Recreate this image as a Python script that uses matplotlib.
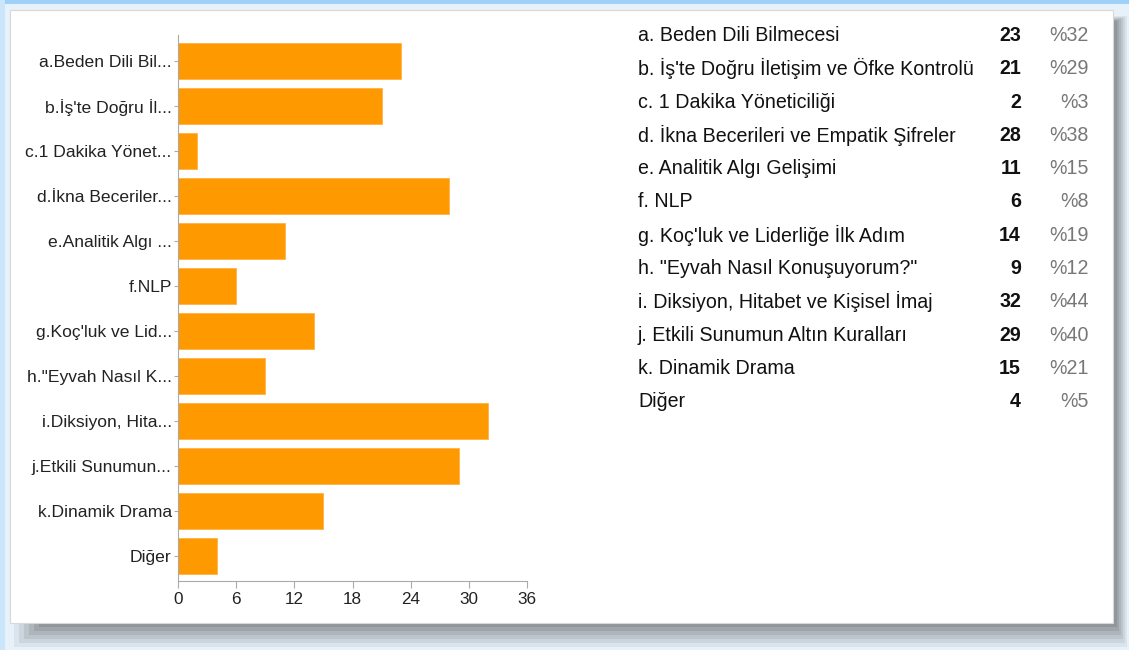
import matplotlib.pyplot as plt
from matplotlib.patches import Rectangle

plt.rcParams["font.family"] = ["Liberation Sans", "DejaVu Sans"]

# data
bar_labels = [
    "a.Beden Dili Bil...", "b.İş'te Doğru İl...", "c.1 Dakika Yönet...",
    "d.İkna Beceriler...", "e.Analitik Algı ...", "f.NLP",
    "g.Koç'luk ve Lid...", "h.\"Eyvah Nasıl K...", "i.Diksiyon, Hita...",
    "j.Etkili Sunumun...", "k.Dinamik Drama", "Diğer",
]
full_labels = [
    "a. Beden Dili Bilmecesi",
    "b. İş'te Doğru İletişim ve Öfke Kontrolü",
    "c. 1 Dakika Yöneticiliği",
    "d. İkna Becerileri ve Empatik Şifreler",
    "e. Analitik Algı Gelişimi",
    "f. NLP",
    "g. Koç'luk ve Liderliğe İlk Adım",
    "h. \"Eyvah Nasıl Konuşuyorum?\"",
    "i. Diksiyon, Hitabet ve Kişisel İmaj",
    "j. Etkili Sunumun Altın Kuralları",
    "k. Dinamik Drama",
    "Diğer",
]
counts = [23, 21, 2, 28, 11, 6, 14, 9, 32, 29, 15, 4]
percents = ["%32", "%29", "%3", "%38", "%15", "%8", "%19", "%12", "%44", "%40", "%21", "%5"]
x_ticks = [0, 6, 12, 18, 24, 30, 36]

W, H = 1129, 650
fig = plt.figure(figsize=(W / 100, H / 100), dpi=100)
fig.patch.set_facecolor("#e6f1fa")


def px_rect(x0, y0, x1, y1, **kw):
    # rectangle in pixel coords (y measured from top), kept behind the axes
    fig.patches.append(Rectangle((x0 / W, 1 - y1 / H), (x1 - x0) / W, (y1 - y0) / H,
                                 transform=fig.transFigure, zorder=-5, **kw))


# blue strips at the top and left edge
px_rect(0, 0, W, 4, facecolor="#9fd0f7", edgecolor="none")
px_rect(0, 0, 5, H, facecolor="#cbe6fb", edgecolor="none")

# soft shadow under/right of the card
for i, a in enumerate([0.08, 0.10, 0.12, 0.14, 0.16, 0.18]):
    px_rect(14 + i * 5, 16 + i, 1127 - i * 2, 647 - i * 4, facecolor="#555555",
            edgecolor="none", alpha=a)

# white card
px_rect(10, 10, 1113, 623, facecolor="white", edgecolor="#d8d8d8", linewidth=0.8)

ax = fig.add_axes([178 / W, 1 - 581 / H, (527 - 178) / W, (581 - 35) / H])
ax.set_facecolor("none")
y = list(range(len(counts)))
ax.barh(y, counts, height=0.8, color="#ff9900", edgecolor="#ffb347", linewidth=0.6)
ax.set_ylim(len(counts) - 0.45, -0.58)
ax.set_xlim(0, 36)
ax.set_yticks(y)
ax.set_yticklabels(bar_labels, fontsize=12.6, color="#222222")
ax.set_xticks(x_ticks)
ax.set_xticklabels([str(t) for t in x_ticks], fontsize=12.3, color="#222222")
for side in ["top", "right"]:
    ax.spines[side].set_visible(False)
for side in ["left", "bottom"]:
    ax.spines[side].set_color("#aaaaaa")
    ax.spines[side].set_linewidth(0.8)
ax.tick_params(axis="y", length=3, color="#aaaaaa", pad=1.5)
ax.tick_params(axis="x", length=5, color="#aaaaaa", pad=3)

# table on the right
row_y0, row_step = 35.5, 33.3
for i, (lab, c, p) in enumerate(zip(full_labels, counts, percents)):
    yy = 1 - (row_y0 + i * row_step) / H
    fig.text(638 / W, yy, lab, fontsize=14.1, color="#111111", va="center", ha="left")
    fig.text(1021 / W, yy, str(c), fontsize=14.1, color="#111111", va="center",
             ha="right", fontweight="bold")
    fig.text(1089 / W, yy, p, fontsize=14.1, color="#777777", va="center", ha="right")

fig.savefig("out.png", dpi=100, facecolor=fig.get_facecolor())
